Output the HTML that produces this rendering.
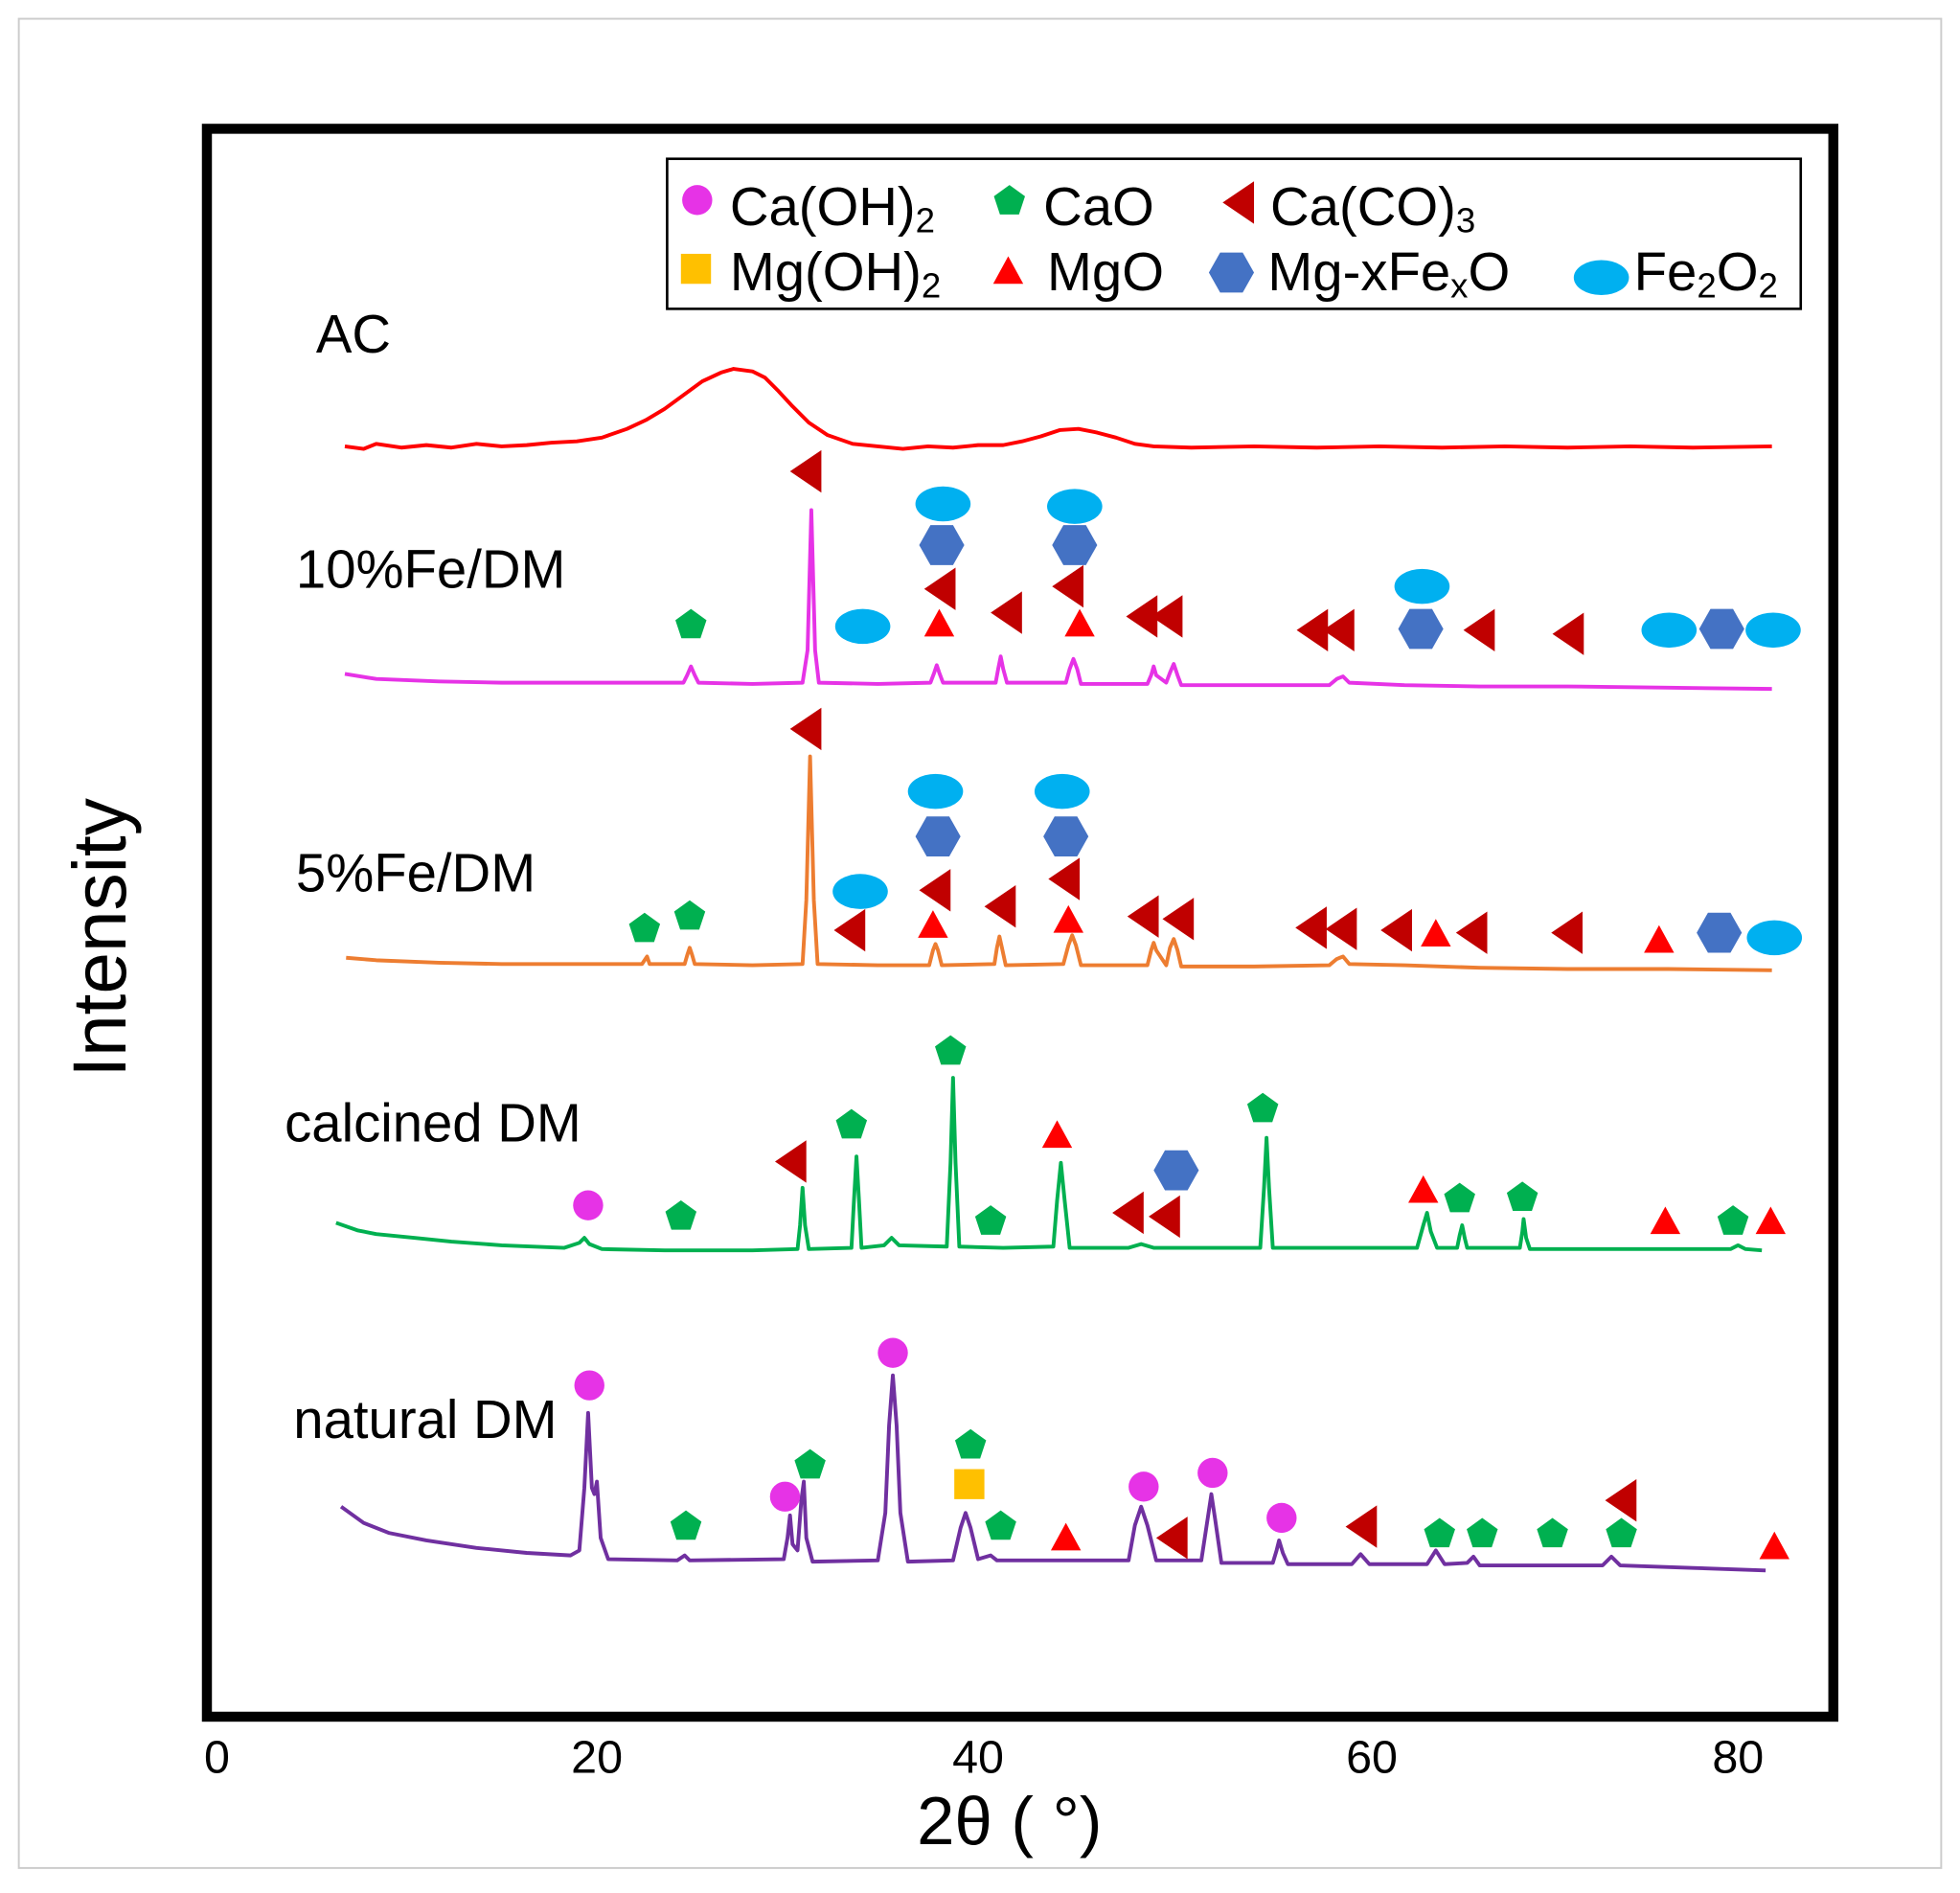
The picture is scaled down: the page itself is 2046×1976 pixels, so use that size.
<!DOCTYPE html>
<html><head><meta charset="utf-8"><style>
html,body{margin:0;padding:0;background:#fff}
svg{display:block}
text{font-family:"Liberation Sans",Arial,sans-serif;fill:#000}
</style></head><body>
<svg width="2046" height="1976" viewBox="0 0 1563 1514" preserveAspectRatio="none" xmlns="http://www.w3.org/2000/svg">
<defs>
<circle id="c" r="12" fill="#e633e6"/>
<polygon id="p" points="0,-13 12.4,-4 7.6,10.5 -7.6,10.5 -12.4,-4" fill="#00b050"/>
<polygon id="l" points="-13,0 12,-17 12,17" fill="#c00000"/>
<polygon id="u" points="0,-12 12,10 -12,10" fill="#ff0000"/>
<polygon id="h" points="-18,0 -9,-16 9,-16 18,0 9,16 -9,16" fill="#4472c4"/>
<ellipse id="e" rx="22" ry="14" fill="#00b0f0"/>
<rect id="s" x="-12" y="-12" width="24" height="24" fill="#ffc000"/>
</defs>
<rect x="0" y="0" width="1563" height="1514" fill="#fff"/>
<rect x="15" y="15" width="1533" height="1479" fill="none" stroke="#ccc" stroke-width="1.5"/>
<rect x="165" y="103" width="1297" height="1270" fill="none" stroke="#000" stroke-width="8"/>

<!-- legend -->
<rect x="532" y="127" width="904" height="120" fill="#fff" stroke="#000" stroke-width="2"/>
<use href="#c" x="556" y="160"/><text x="582" y="180" font-size="43">Ca(OH)<tspan font-size="28" dy="6">2</tspan></text>
<use href="#p" x="805" y="161"/><text x="832" y="180" font-size="43">CaO</text>
<use href="#l" x="988" y="162"/><text x="1013" y="180" font-size="43">Ca(CO)<tspan font-size="28" dy="6">3</tspan></text>
<use href="#s" x="555" y="215"/><text x="582" y="232" font-size="43">Mg(OH)<tspan font-size="28" dy="6">2</tspan></text>
<use href="#u" x="804" y="217"/><text x="835" y="232" font-size="43">MgO</text>
<use href="#h" x="982" y="218"/><text x="1011" y="232" font-size="43">Mg-xFe<tspan font-size="28" dy="6">x</tspan><tspan dy="-6">O</tspan></text>
<use href="#e" x="1277" y="222"/><text x="1303" y="232" font-size="43">Fe<tspan font-size="28" dy="6">2</tspan><tspan dy="-6">O</tspan><tspan font-size="28" dy="6">2</tspan></text>

<!-- axis labels -->
<g font-size="37" text-anchor="middle">
<text x="173" y="1418">0</text><text x="476" y="1418">20</text><text x="780" y="1418">40</text><text x="1094" y="1418">60</text><text x="1386" y="1418">80</text>
</g>
<text x="805" y="1475" font-size="54" text-anchor="middle">2θ ( °)</text>
<text transform="translate(100,750) rotate(-90)" font-size="60" text-anchor="middle">Intensity</text>

<g font-size="43">
<text x="252" y="282">AC</text>
<text x="236" y="470">10%Fe/DM</text>
<text x="236" y="713">5%Fe/DM</text>
<text x="227" y="913">calcined DM</text>
<text x="234" y="1150">natural DM</text>
</g>

<g fill="none" stroke-width="3" stroke-linejoin="round">
<polyline stroke="#ff0000" points="275,357 290,359 300,355 320,358 340,356 360,358 380,355 400,357 420,356 440,354 460,353 480,350 500,343 515,336 530,327 545,316 560,305 575,298 585,295 600,297 610,302 620,312 632,325 645,338 660,348 680,355 700,357 720,359 740,357 760,358 780,356 800,356 815,353 830,349 845,344 860,343 875,346 890,350 905,355 920,357 950,358 1000,357 1050,358 1100,357 1150,358 1200,357 1250,358 1300,357 1350,358 1413,357"/>
<polyline stroke="#e633e6" points="275,539 300,543 350,545 400,546 450,546 500,546 545,546 548,540 551,533 554,540 557,546 600,547 640,546 644,520 647,408 650,520 653,546 700,547 742,546 745,538 747,532 749,538 752,546 794,546 796,535 798,525 800,535 803,546 850,546 853,535 856,527 859,535 862,547 915,547 918,540 920,533 922,540 930,546 933,538 936,531 939,540 942,548 1000,548 1060,548 1066,543 1071,541 1076,546 1120,548 1180,549 1250,549 1330,550 1413,551"/>
<polyline stroke="#ed7d31" points="276,766 300,768 350,770 400,771 450,771 512,771 514,768 516,765 518,771 546,771 548,764 550,758 552,764 554,771 600,772 640,771 643,720 646,605 649,720 652,771 700,772 741,772 744,760 746,755 748,760 751,772 793,771 795,758 797,749 799,758 802,772 848,771 852,756 855,748 858,756 862,772 915,772 918,760 920,754 922,760 930,772 933,758 936,751 939,760 942,773 1000,773 1060,772 1066,767 1071,765 1076,771 1120,772 1180,774 1250,775 1330,775 1413,776"/>
<polyline stroke="#00b050" points="268,978 285,984 300,987 330,990 360,993 400,996 450,998 462,994 466,990 470,995 480,999 530,1000 600,1000 636,999 638,980 640,950 642,980 645,999 679,998 681,960 683,925 685,960 687,998 705,996 711,990 717,996 755,997 758,930 760,862 762,930 765,997 800,998 840,997 843,960 846,930 849,960 853,998 900,998 910,995 920,998 1005,998 1008,950 1010,910 1012,950 1015,998 1130,998 1135,980 1138,970 1141,985 1146,998 1162,998 1164,988 1166,980 1168,990 1170,998 1212,998 1214,985 1215,975 1217,990 1220,999 1300,999 1380,999 1386,996 1392,999 1405,1000"/>
<polyline stroke="#7030a0" points="272,1205 290,1218 310,1226 340,1232 380,1238 420,1242 455,1244 462,1240 466,1190 469,1130 472,1190 474,1195 476,1185 479,1230 485,1247 540,1248 546,1244 550,1248 625,1247 628,1230 630,1212 632,1235 636,1240 639,1200 641,1185 643,1230 648,1249 700,1248 706,1210 709,1140 712,1100 715,1140 718,1210 724,1249 760,1248 766,1222 770,1210 774,1222 780,1247 790,1244 795,1248 900,1248 905,1220 910,1205 915,1220 922,1248 958,1248 963,1215 966,1195 969,1215 974,1250 1015,1250 1018,1240 1020,1232 1023,1242 1027,1251 1078,1251 1085,1243 1092,1251 1138,1251 1145,1240 1152,1251 1170,1250 1175,1245 1180,1252 1278,1252 1285,1245 1292,1252 1350,1254 1408,1256"/>
</g>

<!-- 10% markers -->
<use href="#l" x="643" y="377"/><use href="#e" x="752" y="403"/><use href="#e" x="857" y="405"/>
<use href="#h" x="751" y="436"/><use href="#h" x="857" y="436"/>
<use href="#l" x="750" y="471"/><use href="#l" x="852" y="469"/>
<use href="#p" x="551" y="500"/><use href="#e" x="688" y="501"/>
<use href="#u" x="749" y="499"/><use href="#u" x="861" y="499"/>
<use href="#l" x="803" y="490"/><use href="#l" x="911" y="493"/><use href="#l" x="931" y="493"/>
<use href="#l" x="1047" y="504"/><use href="#l" x="1068" y="504"/><use href="#l" x="1180" y="504"/><use href="#l" x="1251" y="507"/>
<use href="#e" x="1134" y="469"/><use href="#h" x="1133" y="503"/>
<use href="#e" x="1331" y="504"/><use href="#h" x="1373" y="503"/><use href="#e" x="1414" y="504"/>
<!-- 5% markers -->
<use href="#l" x="643" y="583"/><use href="#e" x="746" y="633"/><use href="#e" x="847" y="633"/>
<use href="#h" x="748" y="669"/><use href="#h" x="850" y="669"/>
<use href="#l" x="746" y="712"/><use href="#l" x="849" y="703"/><use href="#e" x="686" y="713"/>
<use href="#p" x="514" y="743"/><use href="#p" x="550" y="733"/><use href="#l" x="678" y="744"/>
<use href="#u" x="744" y="740"/><use href="#u" x="852" y="736"/>
<use href="#l" x="798" y="725"/><use href="#l" x="912" y="733"/><use href="#l" x="940" y="735"/>
<use href="#l" x="1046" y="742"/><use href="#l" x="1070" y="743"/><use href="#l" x="1114" y="744"/>
<use href="#l" x="1174" y="746"/><use href="#l" x="1250" y="746"/>
<use href="#u" x="1145" y="747"/><use href="#u" x="1323" y="752"/>
<use href="#h" x="1371" y="746"/><use href="#e" x="1415" y="750"/>
<!-- calcined markers -->
<use href="#p" x="758" y="841"/><use href="#p" x="679" y="900"/><use href="#p" x="543" y="973"/><use href="#p" x="790" y="977"/>
<use href="#p" x="1007" y="887"/><use href="#p" x="1164" y="959"/><use href="#p" x="1214" y="958"/><use href="#p" x="1382" y="977"/>
<use href="#l" x="631" y="929"/><use href="#l" x="900" y="970"/><use href="#l" x="929" y="973"/>
<use href="#u" x="843" y="908"/><use href="#u" x="1135" y="952"/><use href="#u" x="1328" y="977"/><use href="#u" x="1412" y="977"/>
<use href="#c" x="469" y="964"/><use href="#h" x="938" y="936"/>
<!-- natural markers -->
<use href="#c" x="470" y="1108"/><use href="#c" x="712" y="1082"/><use href="#c" x="626" y="1197"/>
<use href="#c" x="912" y="1189"/><use href="#c" x="967" y="1178"/><use href="#c" x="1022" y="1214"/>
<use href="#p" x="646" y="1172"/><use href="#p" x="774" y="1156"/><use href="#p" x="547" y="1221"/><use href="#p" x="798" y="1221"/>
<use href="#p" x="1148" y="1227"/><use href="#p" x="1182" y="1227"/><use href="#p" x="1238" y="1227"/><use href="#p" x="1293" y="1227"/>
<use href="#s" x="773" y="1187"/>
<use href="#u" x="850" y="1230"/><use href="#u" x="1415" y="1237"/>
<use href="#l" x="935" y="1230"/><use href="#l" x="1086" y="1221"/><use href="#l" x="1293" y="1200"/>
</svg>
</body></html>
